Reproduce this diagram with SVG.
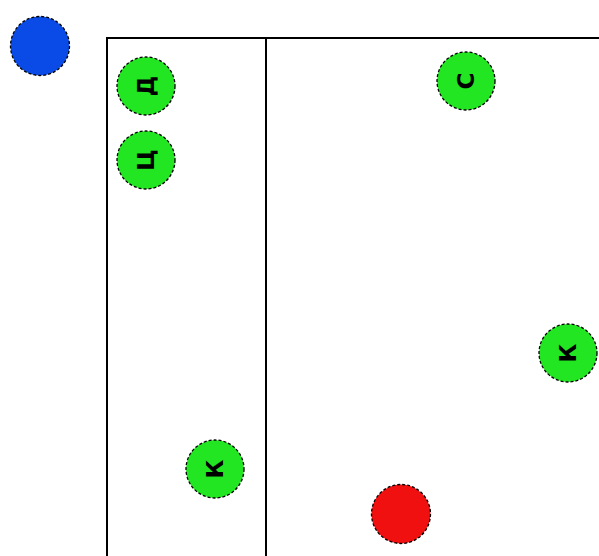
<svg xmlns="http://www.w3.org/2000/svg" width="599" height="556" viewBox="0 0 599 556">
<style>
.node{stroke:#000;stroke-width:1.3;stroke-dasharray:3,2}
.g{fill:#22e622}
.t{font-family:"DejaVu Sans","Liberation Sans",sans-serif;font-weight:bold;font-size:23px;fill:#000;text-anchor:middle;dominant-baseline:central}
.frame{fill:none;stroke:#000;stroke-width:2}
</style>
<rect width="599" height="556" fill="#fff"/>
<g id="frame">
<path class="frame" d="M107,558 V38 H600"/>
<path class="frame" d="M266,38 V558"/>
</g>
<g id="connectors"></g>
<g id="blue"><circle class="node" cx="40" cy="46" r="29.5" fill="#0a4be8"/></g>
<g id="red"><circle class="node" cx="401" cy="514" r="29.5" fill="#f01010"/></g>
<g id="n-d"><circle class="node g" cx="146" cy="86" r="29"/><text class="t" transform="translate(146,86) rotate(-90)">Д</text></g>
<g id="n-ts"><circle class="node g" cx="146" cy="160" r="29"/><text class="t" transform="translate(146,160) rotate(-90)">Ц</text></g>
<g id="n-s"><circle class="node g" cx="466" cy="81" r="29"/><text class="t" transform="translate(466,81) rotate(-90)">С</text></g>
<g id="n-k1"><circle class="node g" cx="568" cy="353" r="29"/><text class="t" transform="translate(568,353) rotate(-90)">К</text></g>
<g id="n-k2"><circle class="node g" cx="215" cy="469" r="29"/><text class="t" transform="translate(215,469) rotate(-90)">К</text></g>
</svg>
